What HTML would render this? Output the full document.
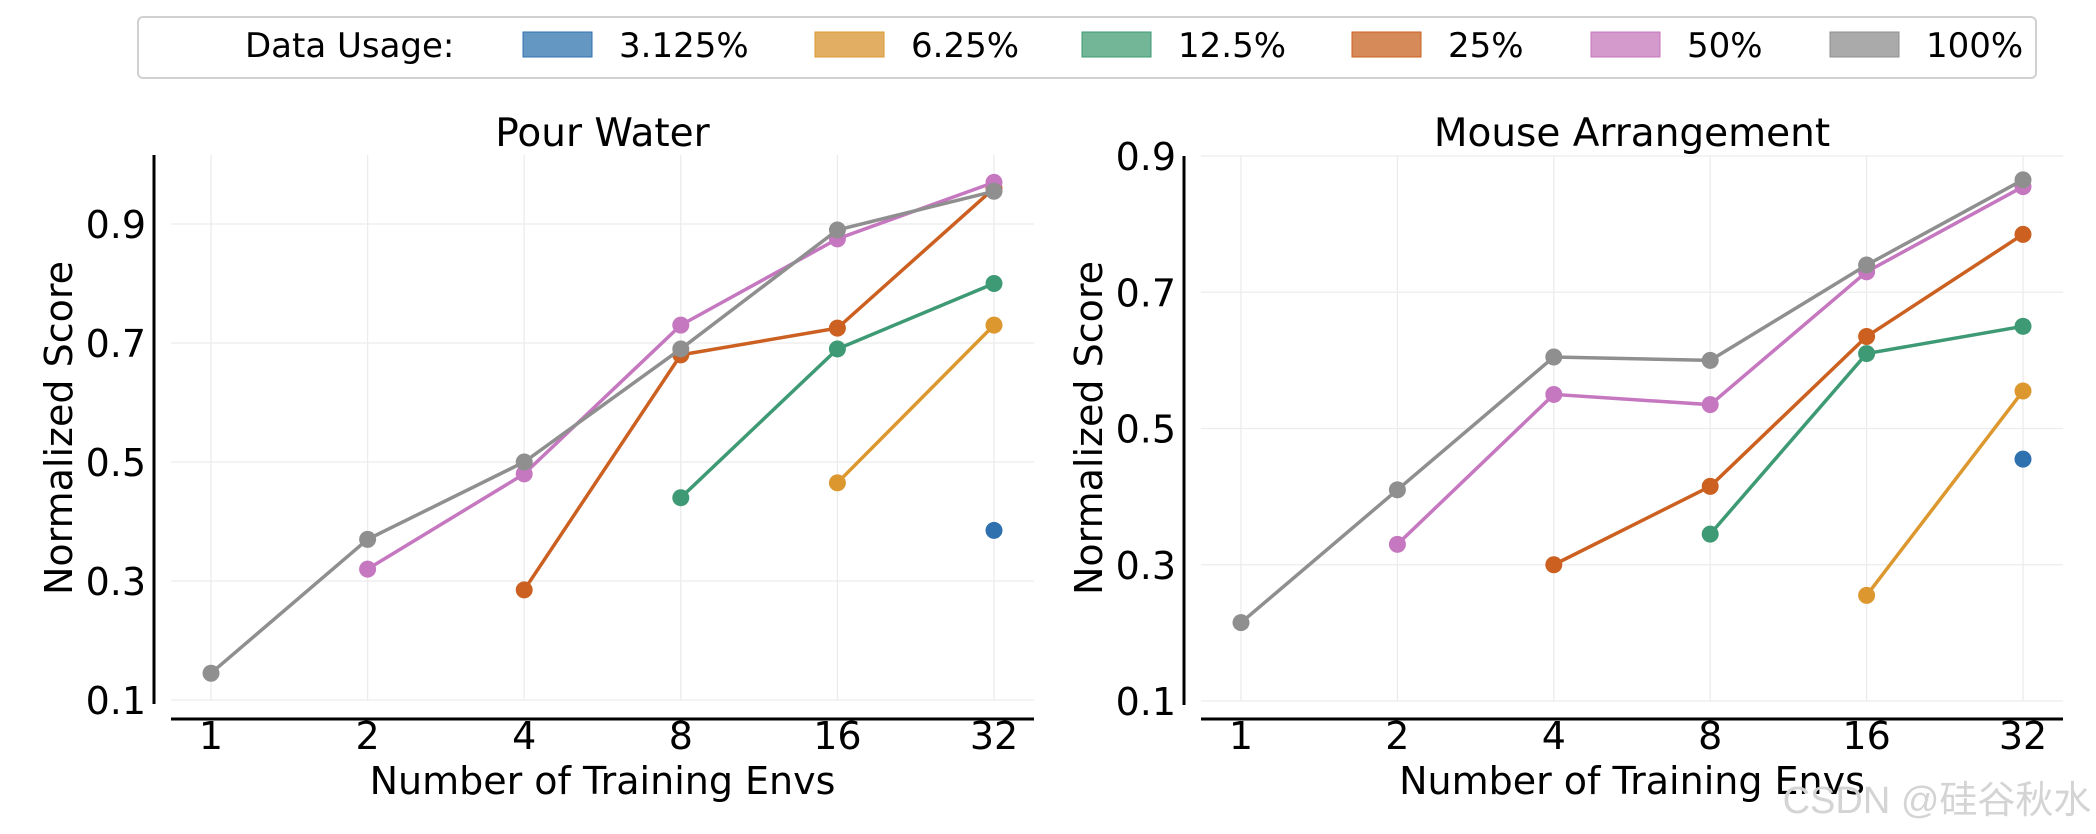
<!DOCTYPE html>
<html><head><meta charset="utf-8"><style>
html,body{margin:0;padding:0;background:#fff;}
svg{display:block;font-family:"DejaVu Sans","Liberation Sans","Noto Sans CJK SC",sans-serif;}
</style></head><body>
<svg id="chart" width="2096" height="834" viewBox="0 0 2096 834" xmlns="http://www.w3.org/2000/svg">
<g id="legend"></g>
<g id="p0"></g>
<g id="p1"></g>
<text x="1937" y="813" font-size="38" fill="#d4d4d4" text-anchor="middle" font-family="Liberation Sans, Noto Sans CJK SC, sans-serif">CSDN @硅谷秋水</text>
</svg>
<script>
const categories = ["1","2","4","8","16","32"];
const seriesNames = ["3.125%","6.25%","12.5%","25%","50%","100%"];
const seriesColors = ["#2f71ae","#dc982f","#3e9a74","#cb6021","#c577bf","#8f8f8f"];
const legendColors = ["#6597c3","#e2ae63","#72b597","#d78a59","#d39acb","#aaaaaa"];
const yTicks = [0.1,0.3,0.5,0.7,0.9];
const pourBlue   = [null,null,null,null,null,0.385];
const pourYellow = [null,null,null,null,0.465,0.73];
const pourGreen  = [null,null,null,0.44,0.69,0.80];
const pourOrange = [null,null,0.285,0.68,0.725,0.96];
const pourPink   = [null,0.32,0.48,0.73,0.875,0.97];
const pourGray   = [0.145,0.37,0.50,0.69,0.89,0.955];
const mouseBlue   = [null,null,null,null,null,0.455];
const mouseYellow = [null,null,null,null,0.255,0.555];
const mouseGreen  = [null,null,null,0.345,0.61,0.65];
const mouseOrange = [null,null,0.30,0.415,0.635,0.785];
const mousePink   = [null,0.33,0.55,0.535,0.73,0.855];
const mouseGray   = [0.215,0.41,0.605,0.60,0.74,0.865];

const NS="http://www.w3.org/2000/svg";
function mk(parent,tag,attrs,text){const e=document.createElementNS(NS,tag);for(const k in attrs)e.setAttribute(k,attrs[k]);if(text!==undefined)e.textContent=text;parent.appendChild(e);return e;}

const lg=document.getElementById('legend');
const lbox=mk(lg,'rect',{x:138,y:17,width:1898,height:61,rx:5,fill:'#fff',stroke:'#d0d0d0','stroke-width':2});


const lt=mk(lg,'text',{x:245,y:57,'font-size':34,fill:'#000'},'Data Usage:');


const patchX=[523,815,1082,1352,1591,1830];
seriesNames.forEach((n,i)=>{
  const p=mk(lg,'rect',{x:patchX[i],y:32,width:69,height:25,fill:legendColors[i],stroke:seriesColors[i],'stroke-width':1});
  
  
  const t=mk(lg,'text',{x:patchX[i]+96,y:57,'font-size':34,fill:'#000'},n);
  
  
});

function panel(gid,cfg,data){
  const g=document.getElementById(gid);
  const x=i=>cfg.x0+i*(cfg.x5-cfg.x0)/5;
  const y=v=>cfg.y01-(v-0.1)*(cfg.y01-cfg.y09)/0.8;
  categories.forEach((c,i)=>{const l=mk(g,'line',{x1:x(i),x2:x(i),y1:cfg.top,y2:y(0.1),stroke:'#ececec','stroke-width':1.3});
    });
  yTicks.forEach(v=>{const l=mk(g,'line',{x1:cfg.gl,x2:cfg.gr,y1:y(v),y2:y(v),stroke:'#ececec','stroke-width':1.3});
    
    const t=mk(g,'text',{x:cfg.spineX-8,y:y(v)+14,'font-size':38,'text-anchor':'end',fill:'#000'},v.toFixed(1));
    });
  categories.forEach((c,i)=>{const t=mk(g,'text',{x:x(i),y:749,'font-size':38,'text-anchor':'middle',fill:'#000'},c);
    });
  const ys=mk(g,'line',{x1:cfg.spineX,x2:cfg.spineX,y1:cfg.top,y2:y(0.1)+4,stroke:'#000','stroke-width':3});
  
  const xs=mk(g,'line',{x1:cfg.gl,x2:cfg.gr,y1:719,y2:719,stroke:'#000','stroke-width':3});
  
  const ti=mk(g,'text',{x:(cfg.x0+cfg.x5)/2,y:146,'font-size':39,'text-anchor':'middle',fill:'#000'},cfg.title);
  
  const xl=mk(g,'text',{x:(cfg.x0+cfg.x5)/2,y:794,'font-size':38,'text-anchor':'middle',fill:'#000'},'Number of Training Envs');
  
  const yl=mk(g,'text',{x:0,y:0,'font-size':38,'text-anchor':'middle',fill:'#000',transform:`translate(${cfg.ylx},428) rotate(-90)`},'Normalized Score');
  
  data.forEach((arr,si)=>{
    const pts=[];arr.forEach((v,i)=>{if(v!==null)pts.push([x(i),y(v)]);});
    if(pts.length>1){const pl=mk(g,'polyline',{points:pts.map(p=>p.join(',')).join(' '),fill:'none',stroke:seriesColors[si],'stroke-width':3.5});
      }
    pts.forEach(p=>{const c=mk(g,'circle',{cx:p[0],cy:p[1],r:8.5,fill:seriesColors[si]});
      });
  });
}
panel('p0',{x0:211,x5:994,y09:224,y01:700,top:155,spineX:154,gl:171,gr:1034,ylx:72,title:'Pour Water'},
  [pourBlue,pourYellow,pourGreen,pourOrange,pourPink,pourGray]);
panel('p1',{x0:1241,x5:2023,y09:156,y01:701,top:156,spineX:1184,gl:1201,gr:2063,ylx:1102,title:'Mouse Arrangement'},
  [mouseBlue,mouseYellow,mouseGreen,mouseOrange,mousePink,mouseGray]);
</script>
</body></html>
